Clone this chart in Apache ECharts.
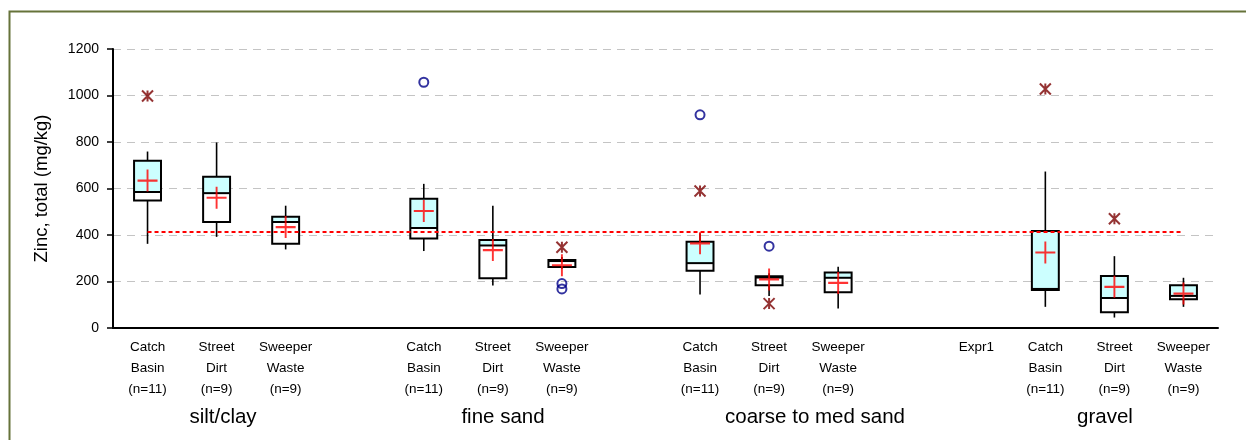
<!DOCTYPE html>
<html>
<head>
<meta charset="utf-8">
<script src="https://cdn.jsdelivr.net/npm/echarts@6/dist/echarts.min.js"></script>
<style>
  html, body { margin: 0; padding: 0; background: #fff; }
  #chart { width: 1246px; height: 440px; }
</style>
</head>
<body>
<div id="chart"></div>
<script>
// category labels (blank slots separate the size fractions)
const CB = 'Catch\nBasin\n(n=11)', SD = 'Street\nDirt\n(n=9)', SW = 'Sweeper\nWaste\n(n=9)';
const categories = [CB, SD, SW, '', CB, SD, SW, '', CB, SD, SW, '', 'Expr1', CB, SD, SW];

// box plot statistics, mg/kg (null = no box)
const whiskerLow  = [362, 392, 338, null, 331, 183, 255, null, 144, 138, 84, null, null, 91, 45, 91];
const q1          = [548, 456, 362, null, 385, 214, 262, null, 246, 184, 154, null, null, 163, 68, 124];
const median      = [585, 580, 456, null, 430, 355, 288, null, 279, 217, 216, null, null, 168, 129, 138];
const q3          = [719, 651, 479, null, 556, 378, 293, null, 371, 223, 239, null, null, 417, 224, 184];
const whiskerHigh = [759, 798, 526, null, 620, 526, 305, null, 407, 235, 263, null, null, 673, 309, 216];
const means       = [634, 560, 434, null, 503, 335, 270, null, 364, 209, 194, null, null, 325, 177, 148];

// [category index, value]
const outliers = [[4, 1057], [6, 191], [6, 168], [8, 917], [9, 352]];
const farOutliers = [[0, 998], [6, 347], [8, 589], [9, 105], [13, 1028], [14, 470]];

const groupNames = ['silt/clay', 'fine sand', 'coarse to med sand', 'gravel'];
const yTicks = [0, 200, 400, 600, 800, 1000, 1200];
const guideline = 415;

const FONT = "'Liberation Sans', Arial, sans-serif";

const boxData = [];
categories.forEach((_, i) => {
  if (q1[i] == null) return;
  boxData.push([i, whiskerLow[i], q1[i], median[i], q3[i], whiskerHigh[i]]);
});
const meanData = [];
means.forEach((m, i) => { if (m != null) meanData.push([i, m]); });

function renderBox(params, api) {
  const x = api.value(0);
  const pLow = api.coord([x, api.value(1)]);
  const pQ1 = api.coord([x, api.value(2)]);
  const pMed = api.coord([x, api.value(3)]);
  const pQ3 = api.coord([x, api.value(4)]);
  const pHigh = api.coord([x, api.value(5)]);
  const w = api.size([1, 0])[0] * 0.39;
  const cx = pLow[0];
  const left = cx - w / 2;
  const whisker = { stroke: '#000', lineWidth: 1.6 };
  return {
    type: 'group',
    children: [
      { type: 'line', shape: { x1: cx, y1: pHigh[1], x2: cx, y2: pQ3[1] }, style: whisker },
      { type: 'line', shape: { x1: cx, y1: pQ1[1], x2: cx, y2: pLow[1] }, style: whisker },
      { type: 'rect', shape: { x: left, y: pQ3[1], width: w, height: pMed[1] - pQ3[1] }, style: { fill: '#ccffff' } },
      { type: 'rect', shape: { x: left, y: pMed[1], width: w, height: pQ1[1] - pMed[1] }, style: { fill: '#ffffff' } },
      { type: 'rect', shape: { x: left, y: pQ3[1], width: w, height: pQ1[1] - pQ3[1] }, style: { fill: 'none', stroke: '#000', lineWidth: 2 } },
      { type: 'line', shape: { x1: left, y1: pMed[1], x2: left + w, y2: pMed[1] }, style: { stroke: '#000', lineWidth: 2 } }
    ]
  };
}

const groupX = [223, 503, 815, 1105];

const chart = echarts.init(document.getElementById('chart'));
chart.setOption({
  animation: false,
  backgroundColor: '#fff',
  grid: { left: 113, right: 28, top: 49, bottom: 112 },
  xAxis: {
    type: 'category',
    data: categories,
    boundaryGap: true,
    axisLine: { lineStyle: { color: '#000', width: 2 } },
    axisTick: { interval: 0, length: 5, lineStyle: { color: '#000', width: 1.5 } },
    axisLabel: {
      interval: 0, margin: 9, color: '#000', fontSize: 13.5, lineHeight: 21, fontFamily: FONT
    },
    splitLine: { show: false }
  },
  yAxis: {
    type: 'value',
    min: yTicks[0],
    max: yTicks[yTicks.length - 1],
    interval: 200,
    name: 'Zinc, total (mg/kg)',
    nameLocation: 'middle',
    nameGap: 62,
    nameTextStyle: { color: '#000', fontSize: 18.5, fontFamily: FONT },
    axisLine: { show: true, lineStyle: { color: '#000', width: 2 } },
    axisTick: { show: true, length: 6, lineStyle: { color: '#000', width: 1.5 } },
    axisLabel: { color: '#000', fontSize: 14, margin: 14, fontFamily: FONT, formatter: v => String(v) },
    splitLine: { lineStyle: { color: '#c4c4c4', width: 1, type: [8, 6] } }
  },
  series: [
    {
      type: 'custom',
      renderItem: renderBox,
      data: boxData,
      encode: { x: 0, y: [1, 2, 3, 4, 5] },
      z: 2,
      markLine: {
        silent: true,
        symbol: 'none',
        label: { show: false },
        lineStyle: { color: '#ff0000', width: 2, type: [4, 3] },
        data: [[{ coord: [0, guideline] }, { coord: [categories.length - 1, guideline] }]]
      }
    },
    {
      type: 'scatter',
      data: meanData,
      symbol: 'path://M0,5L10,5M5,0L5,10',
      symbolSize: [20, 22],
      itemStyle: { color: 'rgba(0,0,0,0)', borderColor: '#ff0000', borderWidth: 2 },
      z: 4
    },
    {
      type: 'scatter',
      data: outliers,
      symbol: 'circle',
      symbolSize: 9,
      itemStyle: { color: 'rgba(0,0,0,0)', borderColor: '#000088', borderWidth: 2 },
      z: 4
    },
    {
      type: 'scatter',
      data: farOutliers,
      symbol: 'path://M0,0L10,10M10,0L0,10M5,0L5,10',
      symbolSize: 11,
      itemStyle: { color: 'rgba(0,0,0,0)', borderColor: '#7a0000', borderWidth: 2 },
      z: 4
    }
  ],
  graphic: [
    {
      type: 'rect', left: 7, top: 9, z: 100, silent: true,
      shape: { width: 1260, height: 460 },
      style: { fill: 'none', stroke: '#66733a', lineWidth: 2 }
    }
  ].concat(groupNames.map((name, i) => ({
    type: 'text', x: groupX[i], y: 417,
    style: {
      text: name, fill: '#000', fontSize: 20.5, fontFamily: FONT,
      textAlign: 'center', textVerticalAlign: 'middle'
    }
  })))
});
window.addEventListener('resize', () => chart.resize());
</script>
</body>
</html>
